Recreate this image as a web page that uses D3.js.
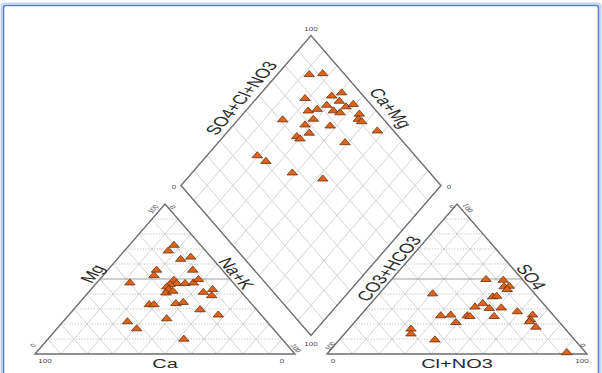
<!DOCTYPE html>
<html><head><meta charset="utf-8">
<script src="https://cdn.jsdelivr.net/npm/d3@7/dist/d3.min.js"></script>
<style>body{margin:0;background:#fff;} svg{display:block;font-family:"Liberation Sans",Arial,Helvetica,sans-serif;}</style>
</head><body><svg id="c" width="602" height="373"></svg>
<script>
// ---- data (percent) ----
const cationCa  = [10.3,14.4,12.4,7.8,25.3,28.1,11.4,39.8,22.0,22.0,24.9,26.9,18.8,15.4,12.3,27.2,29.3,26.1,14.7,10.2,12.6,39.6,37.8,29.0,25.8,21.8,16.5,37.6,53.7,52.5,37.8];
const cationMg  = [72.5,68.7,63.1,64.6,55.9,52.3,55.9,47.4,49.2,47.0,46.3,44.8,47.0,47.4,49.7,43.0,40.7,41.8,41.1,43.0,38.9,32.9,32.9,33.6,34.4,29.5,26.0,23.5,21.5,16.8,9.9];
const cationNaK = [17.2,16.9,24.5,27.6,18.8,19.6,32.7,12.8,28.8,31.0,28.8,28.3,34.2,37.2,38.0,29.8,30.0,32.1,44.2,46.8,48.5,27.5,29.3,37.4,39.8,48.7,57.5,38.9,24.8,30.7,52.3];

const anionHCO3 = [14.0,7.6,9.5,7.3,9.2,39.3,17.2,15.5,23.3,27.4,22.4,17.6,12.7,43.5,39.4,33.3,32.5,23.2,7.9,10.3,11.4,10.7,39.9,59.4,61.0,53.8,7.3];
const anionSO4  = [49.7,49.2,44.8,45.2,43.0,40.1,38.1,38.5,33.6,31.3,30.4,30.7,28.2,25.5,26.0,25.5,25.0,25.0,26.0,22.8,21.5,17.9,21.0,16.6,13.4,9.4,0.9];
const anionCl   = [36.3,43.2,45.7,47.5,47.8,20.6,44.7,46.0,43.1,41.3,47.2,51.7,59.1,31.0,34.6,41.2,42.5,51.8,66.1,66.9,67.1,71.4,39.1,24.0,25.6,36.8,91.8];

const diamondSO4Cl = [86.3,91.8,76.7,87.8,92.7,89.0,73.8,77.8,82.8,83.5,85.4,89.7,93.3,92.4,90.3,90.8,93.7,61.0,73.0,67.9,77.2,66.8,60.8,61.3,77.4,39.3,40.7,47.0,56.7];
const diamondCaMg  = [87.7,82.8,81.3,71.9,69.1,67.2,75.9,73.0,70.7,66.3,63.1,62.8,60.8,55.2,53.9,51.8,42.7,82.8,71.2,72.5,62.5,68.1,71.8,69.8,51.2,80.6,75.4,61.4,47.7];

const gridTicks = [10,20,30,40,50,60,70,80,90];
const endTicks = ["0","100"];

// ---- geometry ----
const k = 0.666;                       // vertical squash of the picture
const S = 100, G = 12.3, H3 = S*Math.sqrt(3)/2;
const x = d3.scaleLinear().domain([0, 2*S+G]).range([35, 587]);
const y = d3.scaleLinear().domain([0, H3]).range([354/k, 204/k]);

const cat = (ca, mg, nak) => [nak + mg/2, mg*H3/100];
const an  = (hco3, so4, cl) => [S + G + cl + so4/2, so4*H3/100];
const Bx = S + G/2, By = G/2*Math.sqrt(3);
const dia = (u, v) => [Bx + (u - v)/2, By + (u + v)/100*H3];

const svg = d3.select("#c");
// frame
svg.append("rect").attr("x",1.5).attr("y",3.5).attr("width",599).attr("height",400).attr("rx",3)
  .attr("fill","none").attr("stroke","#c5d7ee").attr("stroke-width",2);
svg.append("rect").attr("x",3.5).attr("y",5.5).attr("width",595).attr("height",400).attr("rx",2)
  .attr("fill","none").attr("stroke","#4f81c4").attr("stroke-width",1.6);

const g = svg.append("g").attr("transform", `scale(1,${k})`);
const line = d3.line().x(p => x(p[0])).y(p => y(p[1]));

function seg(p, q, cls) {
  const l = g.append("path").attr("d", line([p, q])).attr("fill","none")
    .attr("vector-effect","non-scaling-stroke");
  if (cls === "dot") l.attr("stroke","#b0b0b0").attr("stroke-width",0.8).attr("stroke-dasharray","1.2,1.6");
  else if (cls === "mid") l.attr("stroke","#a0a0a0").attr("stroke-width",1.1);
  else l.attr("stroke","#c8c8c8").attr("stroke-width",0.8);
}

// cation grid
gridTicks.forEach(t => {
  seg(cat(100-t, t, 0), cat(0, t, 100-t), t === 50 ? "mid" : "dot");
  seg(cat(t, 100-t, 0), cat(t, 0, 100-t));
  seg(cat(0, 100-t, t), cat(100-t, 0, t));
});
// anion grid
gridTicks.forEach(t => {
  seg(an(100-t, t, 0), an(0, t, 100-t), t === 50 ? "mid" : "dot");
  seg(an(t, 100-t, 0), an(t, 0, 100-t));
  seg(an(0, 100-t, t), an(100-t, 0, t));
});
// diamond grid
gridTicks.forEach(t => {
  seg(dia(t, 0), dia(t, 100));
  seg(dia(0, t), dia(100, t));
});

// outlines
function poly(pts) {
  g.append("path").attr("d", line(pts) + "Z").attr("fill","none")
    .attr("stroke","#6e6e6e").attr("stroke-width",1.4).attr("vector-effect","non-scaling-stroke");
}
poly([cat(100,0,0), cat(0,100,0), cat(0,0,100)]);
poly([an(100,0,0), an(0,100,0), an(0,0,100)]);
poly([dia(0,0), dia(0,100), dia(100,100), dia(100,0)]);

// text helper (inner coordinates)
function txt(p, dx, dy, s, size, rot, color) {
  const px = x(p[0]) + dx, py = y(p[1]) + dy;
  g.append("text").attr("x", px).attr("y", py)
    .attr("transform", rot ? `rotate(${rot},${px},${py})` : null)
    .attr("text-anchor","middle").attr("dominant-baseline","central")
    .attr("font-size", size).attr("fill", color || "#2a2a2a").text(s);
}
const TS = 8, TC = "#4a4a4a";
// cation ticks
const cA = cat(0,100,0), cL = cat(100,0,0), cR = cat(0,0,100);
txt(cA, -12, 7.5, endTicks[1], TS, -60, TC);
txt(cA, 8, 4.5, endTicks[0], TS, 60, TC);
txt(cL, -2, -13, endTicks[0], TS, -60, TC);
txt(cL, 10, 10, endTicks[1], TS, 0, TC);
txt(cR, -13, 10, endTicks[0], TS, 0, TC);
txt(cR, 1, -9, endTicks[1], TS, 60, TC);
// anion ticks
const aA = an(0,100,0), aL = an(100,0,0), aR = an(0,0,100);
txt(aA, -5, 4, endTicks[0], TS, -60, TC);
txt(aA, 11, 6, endTicks[1], TS, 60, TC);
txt(aL, 3, -12, endTicks[1], TS, -60, TC);
txt(aL, 6, 10, endTicks[0], TS, 0, TC);
txt(aR, -4, -13, endTicks[0], TS, 60, TC);
txt(aR, -5, 10, endTicks[1], TS, 0, TC);
// diamond ticks
txt(dia(100,100), 0, -10, endTicks[1], TS, 0, TC);
txt(dia(0,100), -7, 2, endTicks[0], TS, 0, TC);
txt(dia(100,0), 8, 2, endTicks[0], TS, 0, TC);
txt(dia(0,0), 0, 12, endTicks[1], TS, 0, TC);

// axis titles
const LS = 20;
const nL = [-0.866, -0.5], nR = [0.866, -0.5], eL = [0.5, -0.866], eR = [0.5, 0.866];
function edgeLabel(p, q, n, e, off, along, s, rot) {
  const m = [(p[0]+q[0])/2, (p[1]+q[1])/2];
  txt(m, n[0]*off + e[0]*along, n[1]*off + e[1]*along, s, LS, rot);
}
edgeLabel(cL, cA, nL, eL, 10, 3, "Mg", -60);
edgeLabel(cA, cR, nR, eR, 9, -4, "Na+K", 60);
txt([(cL[0]+cR[0])/2, 0], 0, 15, "Ca", LS, 0);
edgeLabel(aL, aA, nL, eL, 10, 12, "CO3+HCO3", -60);
edgeLabel(aA, aR, nR, eR, 9, 2, "SO4", 60);
txt([(aL[0]+aR[0])/2, 0], 0, 15, "Cl+NO3", LS, 0);
edgeLabel(dia(0,100), dia(100,100), nL, eL, 13, 14, "SO4+Cl+NO3", -60);
edgeLabel(dia(100,100), dia(100,0), nR, eR, 14, 4, "Ca+Mg", 60);

// points
const sym = d3.symbol(d3.symbolTriangle, 48);
function pts(data) {
  g.append("g").selectAll("path").data(data).join("path")
    .attr("d", sym)
    .attr("transform", p => `translate(${x(p[0])},${y(p[1])})`)
    .attr("fill","#dd631a").attr("stroke","#6b2e0c").attr("stroke-width",0.8)
    .attr("vector-effect","non-scaling-stroke");
}
pts(cationCa.map((c,i) => cat(c, cationMg[i], cationNaK[i])));
pts(anionHCO3.map((h,i) => an(h, anionSO4[i], anionCl[i])));
pts(diamondSO4Cl.map((u,i) => dia(u, diamondCaMg[i])));
</script></body></html>
